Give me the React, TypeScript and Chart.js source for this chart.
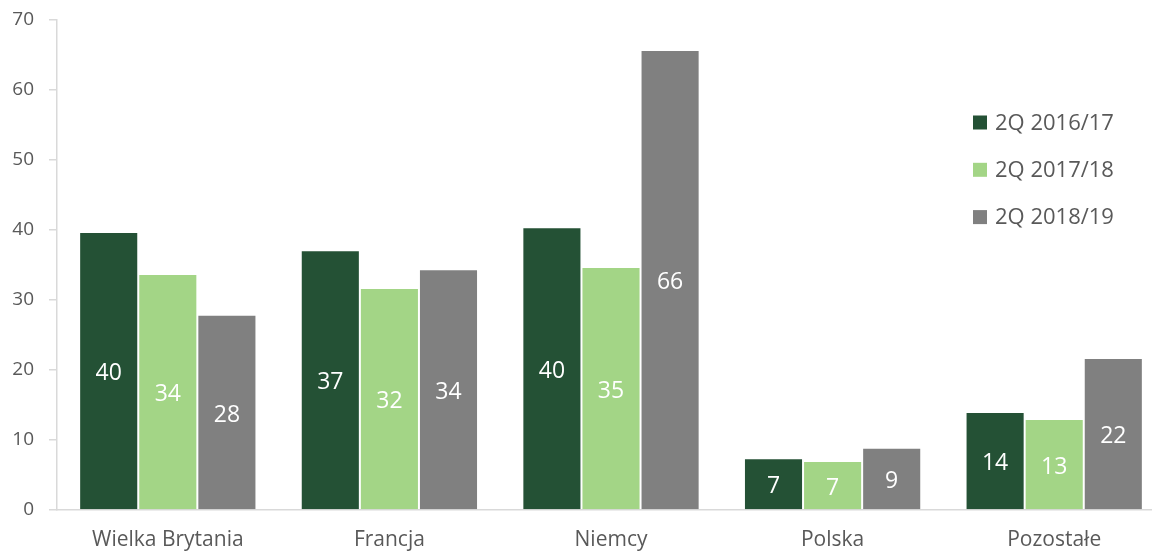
import React, { useEffect, useRef } from "react";
import { Chart, registerables } from "chart.js";

Chart.register(...registerables);

const categories = ["Wielka Brytania", "Francja", "Niemcy", "Polska", "Pozostałe"];
const seriesNames = ["2Q 2016/17", "2Q 2017/18", "2Q 2018/19"];
const series2016 = [39.7, 37.1, 40.4, 7.4, 14.0];
const series2017 = [33.7, 31.7, 34.7, 7.0, 13.0];
const series2018 = [27.9, 34.4, 65.7, 8.9, 21.7];
const seriesColors = ["#245135", "#A3D586", "#808080"];
const yTicks = [0, 10, 20, 30, 40, 50, 60, 70];

const FONT = "'Open Sans', 'Noto Sans', sans-serif";
const TEXT = "#595959";
const AXIS = "#D9D9D9";

const dataLabelPlugin = {
  id: "dataLabels",
  afterDatasetsDraw(chart: any) {
    const ctx = chart.ctx;
    ctx.save();
    ctx.fillStyle = "#FFFFFF";
    ctx.font = `23px ${FONT}`;
    ctx.textAlign = "center";
    ctx.textBaseline = "middle";
    chart.data.datasets.forEach((ds: any, i: number) => {
      const meta = chart.getDatasetMeta(i);
      meta.data.forEach((el: any, j: number) => {
        const p = el.getProps(["x", "y", "base"], true);
        const v = ds.data[j];
        ctx.fillText(String(Math.round(v)), p.x, (p.y + p.base) / 2 + 3);
      });
    });
    ctx.restore();
  },
};

const legendPlugin = {
  id: "sideLegend",
  afterDraw(chart: any) {
    const ctx = chart.ctx;
    const x0 = 973;
    const rows = [122.5, 169.8, 217.1];
    ctx.save();
    ctx.font = `22px ${FONT}`;
    ctx.textAlign = "left";
    ctx.textBaseline = "middle";
    chart.data.datasets.forEach((ds: any, i: number) => {
      const cy = rows[i];
      ctx.fillStyle = ds.backgroundColor;
      ctx.fillRect(x0, cy - 7, 14, 14);
      ctx.fillStyle = TEXT;
      ctx.fillText(ds.label, x0 + 22, cy + 1);
    });
    ctx.restore();
  },
};

export default function App() {
  const ref = useRef<HTMLCanvasElement | null>(null);

  useEffect(() => {
    if (!ref.current) return;
    const chart = new Chart(ref.current, {
      type: "bar",
      data: {
        labels: categories,
        datasets: [series2016, series2017, series2018].map((d, i) => ({
          label: seriesNames[i],
          data: d,
          backgroundColor: seriesColors[i],
          borderColor: "rgba(255,255,255,0.25)",
          borderWidth: 1,
          categoryPercentage: 0.8,
          barPercentage: 1.0,
        })),
      },
      options: {
        animation: false,
        responsive: false,
        maintainAspectRatio: false,
        events: [],
        layout: { padding: { top: 20, left: 0, right: 0, bottom: 0 } },
        plugins: {
          legend: { display: false },
          tooltip: { enabled: false },
        },
        scales: {
          x: {
            grid: { display: false, drawTicks: false },
            border: { display: true, color: AXIS, width: 1.5 },
            ticks: {
              color: TEXT,
              font: { family: FONT, size: 21 },
              padding: 17,
              maxRotation: 0,
              autoSkip: false,
            },
            afterFit(scale: any) {
              scale.height = 41;
            },
          },
          y: {
            min: 0,
            max: 70,
            afterBuildTicks(scale: any) {
              scale.ticks = yTicks.map((v) => ({ value: v }));
            },
            grid: {
              drawOnChartArea: false,
              drawTicks: true,
              tickLength: 8,
              color: AXIS,
              lineWidth: 1.5,
            },
            border: { display: true, color: AXIS, width: 1.5 },
            ticks: {
              color: TEXT,
              font: { family: FONT, size: 19 },
              padding: 15,
            },
            afterFit(scale: any) {
              scale.width = 57;
              scale.paddingTop = 0;
              scale.paddingBottom = 0;
            },
          },
        },
      },
      plugins: [dataLabelPlugin, legendPlugin],
    });
    return () => chart.destroy();
  }, []);

  return (
    <div
      style={{
        position: "fixed",
        left: 0,
        top: 0,
        width: 1152,
        height: 551,
        overflow: "hidden",
        background: "#FFFFFF",
      }}
    >
      <canvas ref={ref} width={1165} height={551} style={{ display: "block" }} />
    </div>
  );
}
